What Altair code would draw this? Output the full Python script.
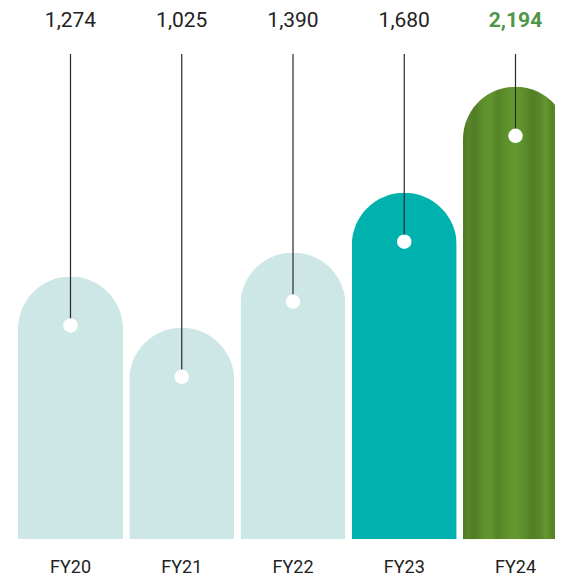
import altair as alt
import pandas as pd

categories = ["FY20", "FY21", "FY22", "FY23", "FY24"]
values = [1274, 1025, 1390, 1680, 2194]

bar_colors = ["#cde6e6", "#cde6e6", "#cde6e6", "#00b2ae"]

df = pd.DataFrame({"cat": categories, "value": values, "idx": list(range(len(categories)))})

FONT = "Roboto"
H = 540
W = 537
STEP = 111.25
BAR_W = 105
DOT_OFF = 49

half = BAR_W / 2 / STEP
x = alt.X("idx:Q", scale=alt.Scale(domain=[-half, -half + W / STEP], nice=False, zero=False, padding=0),
          axis=None)
yscale = alt.Scale(domain=[-43, 2576], nice=False, zero=False, padding=0)
y = alt.Y("value:Q", scale=yscale, axis=None)

base = alt.Chart(df)

bars = base.transform_filter(alt.datum.cat != "FY24").mark_bar(
    width=BAR_W, cornerRadiusTopLeft=BAR_W / 2, cornerRadiusTopRight=BAR_W / 2
).encode(
    x=x, y=y, y2=alt.value(H),
    color=alt.Color("cat:N", scale=alt.Scale(domain=categories[:4], range=bar_colors), legend=None),
)

wood = alt.Gradient(
    gradient="linear", x1=0, x2=1, y1=0, y2=0,
    stops=[
        alt.GradientStop(color="#517a22", offset=0.0),
        alt.GradientStop(color="#58842a", offset=0.05),
        alt.GradientStop(color="#527c24", offset=0.11),
        alt.GradientStop(color="#5f922c", offset=0.2),
        alt.GradientStop(color="#62952e", offset=0.27),
        alt.GradientStop(color="#558226", offset=0.33),
        alt.GradientStop(color="#5f922c", offset=0.42),
        alt.GradientStop(color="#64982f", offset=0.5),
        alt.GradientStop(color="#5e902c", offset=0.57),
        alt.GradientStop(color="#547f25", offset=0.66),
        alt.GradientStop(color="#578427", offset=0.72),
        alt.GradientStop(color="#63972f", offset=0.79),
        alt.GradientStop(color="#568226", offset=0.85),
        alt.GradientStop(color="#62952e", offset=0.93),
        alt.GradientStop(color="#5a8a29", offset=1.0),
    ],
)

bar24 = base.transform_filter(alt.datum.cat == "FY24").mark_bar(
    width=BAR_W, cornerRadiusTopLeft=BAR_W / 2, cornerRadiusTopRight=BAR_W / 2, color=wood
).encode(x=x, y=y, y2=alt.value(H))

rules = base.mark_rule(color="#2a2a2a", strokeWidth=1.2, yOffset=DOT_OFF).encode(
    x=x, y=y, y2=alt.value(46)
)

dots = base.mark_circle(color="white", opacity=1, size=210, yOffset=DOT_OFF).encode(x=x, y=y)

labels = base.transform_filter(alt.datum.cat != "FY24").mark_text(
    font=FONT, fontSize=21, color="#222222", baseline="middle"
).encode(x=x, y=alt.value(13), text=alt.Text("value:Q", format=","))

label24 = base.transform_filter(alt.datum.cat == "FY24").mark_text(
    font=FONT, fontSize=21, fontWeight="bold", color="#4e9648", baseline="middle"
).encode(x=x, y=alt.value(13), text=alt.Text("value:Q", format=","))

cat_labels = base.mark_text(
    font=FONT, fontSize=18, color="#222222", baseline="middle"
).encode(x=x, y=alt.value(H + 20), text="cat:N")

chart = alt.layer(bars, bar24, rules, dots, labels, label24, cat_labels).properties(
    width=W, height=H,
    autosize=alt.AutoSizeParams(type="none"),
    padding={"left": 10, "top": 0, "right": 0, "bottom": 29},
).configure_view(stroke=None)

chart.save("out.html", embed_options={"renderer": "svg", "actions": False})
